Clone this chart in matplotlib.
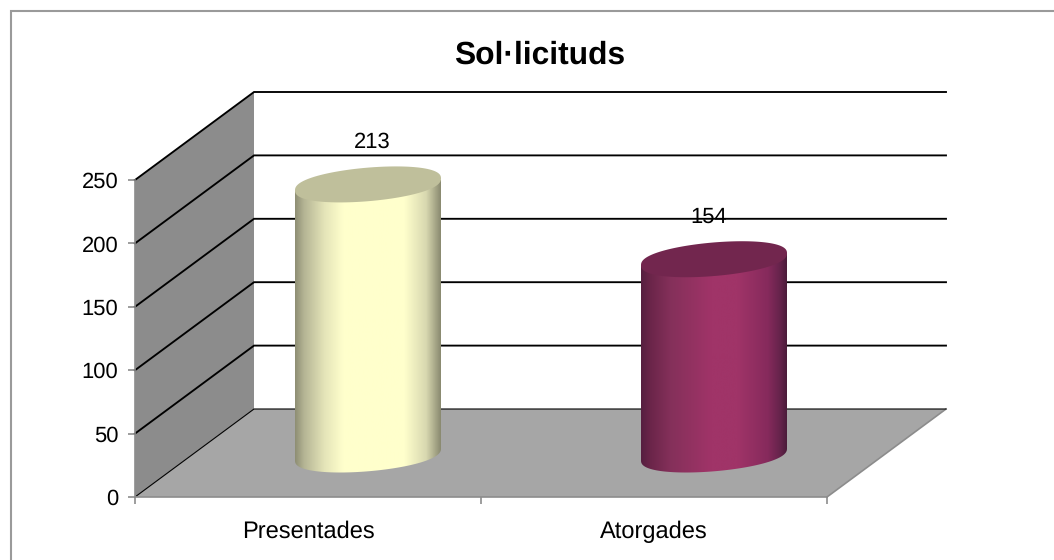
import numpy as np
import matplotlib
matplotlib.use('Agg')
import matplotlib.pyplot as plt
from matplotlib.colors import LinearSegmentedColormap
from matplotlib.lines import Line2D
from matplotlib.patches import Polygon

categories = ['Presentades', 'Atorgades']
values = [213, 154]
y_ticks = [0, 50, 100, 150, 200, 250]
title = 'Sol·licituds'

W, H = 1054, 560
plt.rcParams['font.family'] = ['Liberation Sans', 'DejaVu Sans']
plt.rcParams['text.hinting'] = 'none'

# front plane of the 3d box, in pixels
left, right, bottom, top = 135, 827, 497, 180
px_x = 2 / (right - left)
px_y = 250 / (bottom - top)

# depth of the box, in data units
depth_x = 119 * px_x
depth_y = 88 * px_y

fig = plt.figure(figsize=(W / 100, H / 100), dpi=100, facecolor='white')

# chart border, only top and left fall inside the picture
fig.add_artist(Line2D([10.5 / W, 10.5 / W, 1], [0, 1 - 10.5 / H, 1 - 10.5 / H], transform=fig.transFigure,
                      color='#9a9a9a', lw=1.5, solid_joinstyle='miter'))

ax = fig.add_axes([left / W, 1 - bottom / H, (right - left) / W, (bottom - top) / H])
ax.patch.set_alpha(0)

# walls
ax.add_patch(Polygon([(0, 0), (depth_x, depth_y), (depth_x, 250 + depth_y), (0, 250)],
                     facecolor='#8c8c8c', edgecolor='none', zorder=1, clip_on=False))
ax.add_patch(Polygon([(0, 0), (2, 0), (2 + depth_x, depth_y), (depth_x, depth_y)],
                     facecolor='#a6a6a6', edgecolor='none', zorder=1, clip_on=False))
ax.plot([2, 2 + depth_x], [0, depth_y], color='#8c8c8c', lw=1.2, zorder=2, clip_on=False)

# gridlines
for v in y_ticks:
    lw = 0.8 if v == 0 else 1.35
    ax.plot([0, depth_x, 2 + depth_x], [v, v + depth_y, v + depth_y], color='black',
            lw=lw, zorder=2, clip_on=False, solid_joinstyle='miter')

# cylinders
cyl_colors = [
    ([(0, '#8e8e74'), (0.06, '#b4b494'), (0.2, '#e4e4b8'), (0.33, '#ffffcc'), (0.75, '#ffffcc'),
      (0.9, '#d8d8b0'), (1, '#8a8a70')], '#bfbf9b'),
    ([(0, '#561f40'), (0.06, '#6a2549'), (0.2, '#84305a'), (0.48, '#a03468'), (0.66, '#a03468'),
      (0.87, '#862a5c'), (0.96, '#63234a'), (1, '#4c1c3a')], '#72264e'),
]
half_w = 73 * px_x
tilt = 6 * px_y
half_h = 16.8 * px_y
base_y = (bottom - 454.5) * px_y
t = np.linspace(0, 2 * np.pi, 240)

for i, (val, (stops, cap)) in enumerate(zip(values, cyl_colors)):
    cx = i + 0.5 + 60 * px_x
    top_y = base_y + val
    ex = half_w * np.cos(t)
    # a bit fuller than a true ellipse, the reference caps are rounder at the ends
    ey = tilt * np.cos(t) + half_h * np.sign(np.sin(t)) * np.abs(np.sin(t)) ** 0.85

    low = (t >= np.pi)
    body = np.vstack([
        [(cx - half_w, top_y - tilt)],
        np.column_stack([cx + ex[low], base_y + ey[low]]),
        [(cx + half_w, top_y + tilt)],
        [(cx - half_w, top_y - tilt)],
    ])
    clip = Polygon(body, closed=True, transform=ax.transData, facecolor='none', edgecolor='none')
    ax.add_patch(clip)
    cmap = LinearSegmentedColormap.from_list('cyl%d' % i, stops)
    im = ax.imshow(np.linspace(0, 1, 256).reshape(1, -1), cmap=cmap, aspect='auto', zorder=3,
                   extent=[cx - half_w, cx + half_w, base_y - 30, top_y + 30])
    im.set_clip_path(clip)

    ax.add_patch(Polygon(np.column_stack([cx + ex, top_y + ey]), closed=True, facecolor=cap,
                         edgecolor='none', zorder=4, clip_on=False))

# data labels
label_dx = [4, -5]
for i, val in enumerate(values):
    cx = i + 0.5 + 60 * px_x
    ax.text(cx + label_dx[i] * px_x, base_y + val + 42.5 * px_y, str(val), ha='center', va='center',
            fontsize=15.8, color='black', zorder=5, clip_on=False)

# axes
ax.set_xlim(0, 2)
ax.set_ylim(0, 250)
for side in ['top', 'right']:
    ax.spines[side].set_visible(False)
for side in ['left', 'bottom']:
    ax.spines[side].set_color('#8c8c8c')
    ax.spines[side].set_linewidth(1.2)
    ax.spines[side].set_zorder(2.5)
ax.set_yticks(y_ticks)
ax.tick_params(axis='y', color='#8c8c8c', length=5, width=1.2, labelsize=15.8, pad=7)
ax.set_xticks([0, 1, 2])
ax.set_xticklabels([])
ax.set_xticks([0.5, 1.5], minor=True)
ax.set_xticklabels(categories, minor=True)
ax.tick_params(axis='x', which='major', color='#8c8c8c', length=5, width=1.2)
ax.tick_params(axis='x', which='minor', length=0, labelsize=17, pad=17)

fig.text(540 / W, 1 - 55 / H, title, ha='center', va='center', fontsize=22.9, fontweight='bold')

fig.savefig('out.png', dpi=100)
